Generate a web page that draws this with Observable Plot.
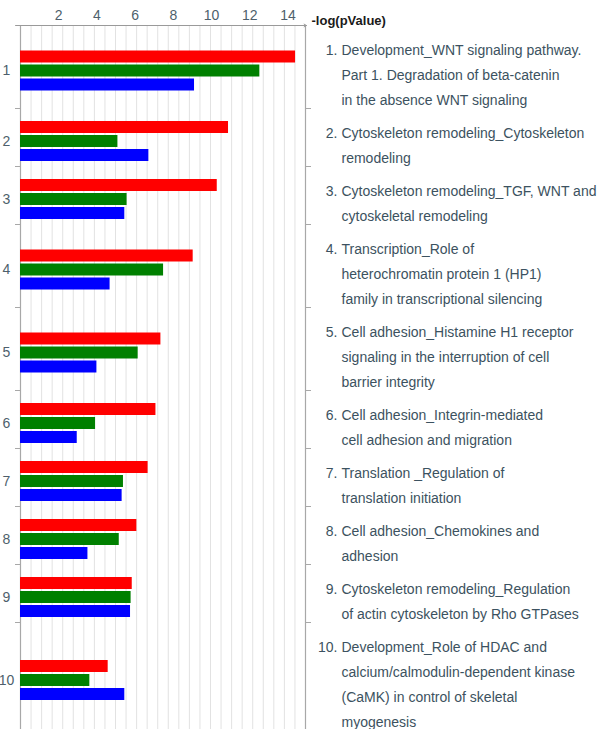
<!DOCTYPE html>
<html>
<head>
<meta charset="utf-8">
<script src="https://cdn.jsdelivr.net/npm/d3@7"></script>
<script src="https://cdn.jsdelivr.net/npm/@observablehq/plot@0.6"></script>
<style>
  html, body { margin: 0; padding: 0; background: #fff; }
  #chart svg { display: block; overflow: visible; }
</style>
</head>
<body>
<div id="chart"></div>
<script>
// ---- data ----
const categories = ["1", "2", "3", "4", "5", "6", "7", "8", "9", "10"];
const seriesNames = ["red", "green", "blue"];
const redValues   = [14.40, 10.89, 10.30, 9.04, 7.35, 7.09, 6.68, 6.09, 5.85, 4.59];
const greenValues = [12.53, 5.10, 5.58, 7.49, 6.16, 3.93, 5.39, 5.17, 5.79, 3.63];
const blueValues  = [9.11, 6.72, 5.46, 4.69, 4.00, 2.97, 5.32, 3.53, 5.76, 5.46];
const xTicks = [2, 4, 6, 8, 10, 12, 14];
const axisTitle = "-log(pValue)";
const descriptions = [
  ["Development_WNT signaling pathway.", "Part 1. Degradation of beta-catenin", "in the absence WNT signaling"],
  ["Cytoskeleton remodeling_Cytoskeleton", "remodeling"],
  ["Cytoskeleton remodeling_TGF, WNT and", "cytoskeletal remodeling"],
  ["Transcription_Role of", "heterochromatin protein 1 (HP1)", "family in transcriptional silencing"],
  ["Cell adhesion_Histamine H1 receptor", "signaling in the interruption of cell", "barrier integrity"],
  ["Cell adhesion_Integrin-mediated", "cell adhesion and migration"],
  ["Translation _Regulation of", "translation initiation"],
  ["Cell adhesion_Chemokines and", "adhesion"],
  ["Cytoskeleton remodeling_Regulation", "of actin cytoskeleton by Rho GTPases"],
  ["Development_Role of HDAC and", "calcium/calmodulin-dependent kinase", "(CaMK) in control of skeletal", "myogenesis"]
];

// ---- layout (in "text line" units) ----
const seriesColors = ["#ff0000", "#007800", "#0000f0"];
const X_MAX = 14.92;
const GAP = 0.32, BAR_H = 0.48, BAR_STEP = 0.56, SHIFT = 0.16;
let acc = 0;
const bands = categories.map((c, i) => {
  const b = {cat: c, idx: i, top: acc, h: descriptions[i].length + GAP};
  b.mid = b.top + b.h / 2 + SHIFT;
  acc += b.h;
  return b;
});
const total = acc;
const seriesValues = [redValues, greenValues, blueValues];
const bars = [];
bands.forEach((b, i) => {
  seriesNames.forEach((s, k) => {
    const c = b.mid + (k - 1) * BAR_STEP;
    bars.push({cat: b.cat, series: s, value: seriesValues[k][i], y1: c - BAR_H / 2, y2: c + BAR_H / 2});
  });
});
const boundaries = bands.slice(1).map(b => b.top);
const descLines = [];
bands.forEach((b, i) => descriptions[i].forEach((t, j) => descLines.push({text: t, y: b.top + j + 1})));
const numbers = bands.map(b => ({text: b.cat + ".", y: b.top + 1}));
const grid = d3.range(1, 27).map(i => i * X_MAX / 27);

const font = "'Liberation Sans', Arial, Helvetica, sans-serif";
const textColor = "#3c5260";

const chart = Plot.plot({
  width: 600,
  height: 729,
  marginLeft: 20,
  marginRight: 295,
  marginTop: 25,
  marginBottom: 0,
  style: {fontFamily: font, background: "#fff", overflow: "visible"},
  x: {domain: [0, X_MAX], range: [20, 305], axis: null},
  y: {domain: [0, total], range: [25, 25 + total * 25], axis: null},
  color: {domain: seriesNames, range: seriesColors},
  marks: [
    Plot.ruleX(grid, {y1: 0, y2: total, stroke: "#e2e2e2", strokeWidth: 1}),
    Plot.ruleX([0, X_MAX], {y1: 0, y2: total, stroke: "#a8a8a8", strokeWidth: 1.2}),
    Plot.arrow([{x1: -0.26, x2: X_MAX + 0.05, y: 0}], {x1: "x1", x2: "x2", y1: "y", y2: "y", stroke: "#9a9a9a", strokeWidth: 1, headLength: 4}),
    Plot.axisY(boundaries, {anchor: "left", tickSize: 5, tickFormat: () => "", stroke: "#a8a8a8", label: null}),
    Plot.axisY(boundaries, {anchor: "right", tickSize: 5, tickFormat: () => "", stroke: "#a8a8a8", label: null}),
    Plot.axisX(xTicks, {anchor: "top", tickSize: 0, tickPadding: 6, fontSize: 14, fill: "#4e5f6c", label: null}),
    Plot.rect(bars, {x1: () => 0, x2: "value", y1: "y1", y2: "y2", fill: "series"}),
    Plot.text(bands, {y: "mid", text: "cat", frameAnchor: "left", dx: -14, textAnchor: "middle", fontSize: 14, fill: "#4e5f6c"}),
    Plot.text([axisTitle], {x: () => X_MAX, y: () => 0, text: d => d, dx: 6, dy: -5, textAnchor: "start", fontSize: 13, fontWeight: "bold", fill: "#1a1a1a"}),
    Plot.text(numbers, {y: "y", text: "text", frameAnchor: "right", dx: 32, textAnchor: "end", fontSize: 14, fill: textColor}),
    Plot.text(descLines, {y: "y", text: "text", frameAnchor: "right", dx: 36, textAnchor: "start", fontSize: 14, fill: textColor})
  ]
});
document.getElementById("chart").appendChild(chart);
</script>
</body>
</html>
